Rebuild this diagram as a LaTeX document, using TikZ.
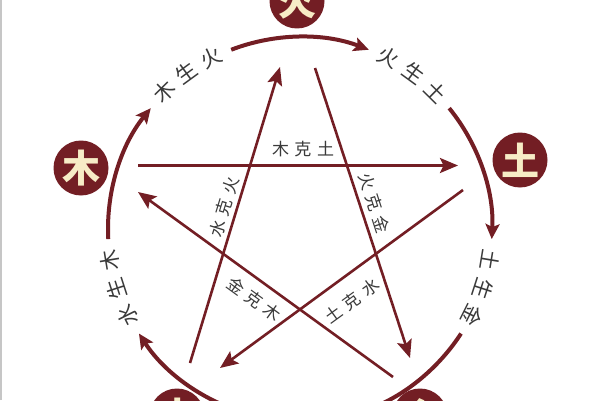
\documentclass[tikz,border=0pt]{standalone}
\usepackage{fontspec}
\newfontfamily\cjk{Noto Sans CJK SC}
\usetikzlibrary{arrows.meta}
\definecolor{maroon}{HTML}{731E24}
\definecolor{cream}{HTML}{F7ECC6}
\definecolor{labelgray}{HTML}{3A3A3A}
\tikzset{
  ringarrow/.style={draw=maroon, line width=4pt, -{Stealth[length=15pt,width=14pt,inset=3pt]}},
  kearrow/.style={draw=maroon, line width=2.6pt, -{Stealth[length=18pt,width=15pt,inset=3.5pt]}},
  elem/.style={circle, fill=maroon, minimum size=55pt, inner sep=0pt, text=cream, font=\cjk\bfseries\fontsize{38}{38}\selectfont},
  ringlbl/.style={text=labelgray, font=\cjk\fontsize{21}{21}\selectfont, inner sep=0pt},
  kelbl/.style={text=labelgray, font=\cjk\fontsize{17}{17}\selectfont, inner sep=0pt}
}
\begin{document}
\begin{tikzpicture}[x=1pt,y=1pt]
\useasboundingbox (0,0) rectangle (600,400);
\clip (0,0) rectangle (600,400);
\fill[white] (0,0) rectangle (600,400);
\draw[gray!45, line width=1.5pt] (1,0) -- (1,400);
\coordinate (ctr) at (300,171);
% element circles
\node[elem] (huo) at (297,399) {火};
\node[elem] (mu) at (81,232) {木};
\node[elem] (tu) at (520,240) {土};
\node[elem] (shui) at (177,-16) {水};
\node[elem] (jin) at (420,-16) {金};
% generating ring
\foreach \k in {0,...,4}{
  \pgfmathsetmacro{\sa}{183-72*\k}
  \pgfmathsetmacro{\ea}{141-72*\k}
  \draw[ringarrow] ([shift={(\sa:192)}]ctr) arc[start angle=\sa, end angle=\ea, radius=192];
}
% ring labels
\foreach \a/\ch [count=\i] in {134.6/木,126/生,117.4/火}
  \node[ringlbl, rotate=\a-90] (sa\i) at ([shift={(\a:193)}]ctr) {\ch};
\foreach \a/\ch [count=\i] in {62.6/火,54/生,45.4/土}
  \node[ringlbl, rotate=\a-90] (sb\i) at ([shift={(\a:193)}]ctr) {\ch};
\foreach \a/\ch [count=\i] in {-9.4/土,-18/生,-26.6/金}
  \node[ringlbl, rotate=\a-90] (sc\i) at ([shift={(\a:193)}]ctr) {\ch};
\foreach \a/\ch [count=\i] in {206.6/水,198/生,189.4/木}
  \node[ringlbl, rotate=\a-90] (sd\i) at ([shift={(\a:193)}]ctr) {\ch};
% overcoming star
\coordinate (a1) at (138,234.5); \coordinate (a2) at (458,234.5);
\coordinate (b1) at (315,332);   \coordinate (b2) at (410,42);
\coordinate (c1) at (463,210);   \coordinate (c2) at (220,32);
\coordinate (d1) at (190,37);    \coordinate (d2) at (280,333);
\coordinate (e1) at (393,23);    \coordinate (e2) at (138,208);
\draw[kearrow] (a1) -- (a2);
\draw[kearrow] (b1) -- (b2);
\draw[kearrow] (c1) -- (c2);
\draw[kearrow] (d1) -- (d2);
\draw[kearrow] (e1) -- (e2);
\node[kelbl] (k1) at (303,251) {木\hspace{5.5pt}克\hspace{5.5pt}土};
\node[kelbl, rotate=-72] (k2) at (374,197) {火\hspace{5.5pt}克\hspace{5.5pt}金};
\node[kelbl, rotate=73] (k3) at (224,193) {水\hspace{5.5pt}克\hspace{5.5pt}火};
\node[kelbl, rotate=-36] (k4) at (254,101) {金\hspace{5.5pt}克\hspace{5.5pt}木};
\node[kelbl, rotate=36] (k5) at (352,99) {土\hspace{5.5pt}克\hspace{5.5pt}水};
\end{tikzpicture}
\end{document}
